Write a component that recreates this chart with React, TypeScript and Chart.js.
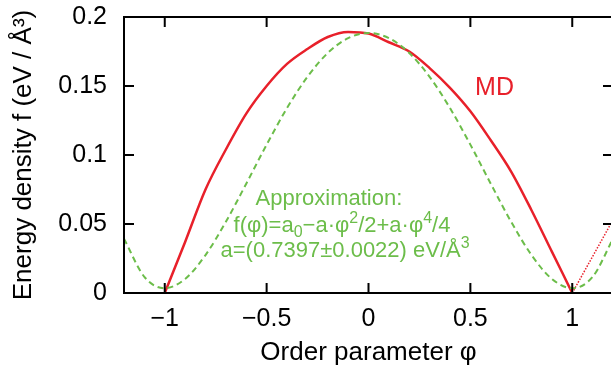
import React, { useEffect, useRef } from 'react';
import { Chart, registerables } from 'chart.js';

Chart.register(...registerables);

// ---- data ----
const approxPhi = [-1.2, -1.1, -1.0, -0.9, -0.8, -0.7, -0.6, -0.5, -0.4, -0.3, -0.2, -0.1, 0, 0.1, 0.2, 0.3, 0.4, 0.5, 0.6, 0.7, 0.8, 0.9, 1.0, 1.1, 1.2];
const approxValues = [0.0393, 0.0117, 0.0035, 0.0102, 0.0275, 0.0516, 0.0792, 0.1075, 0.134, 0.1566, 0.1739, 0.1847, 0.1884, 0.1847, 0.1739, 0.1566, 0.134, 0.1075, 0.0792, 0.0516, 0.0275, 0.0102, 0.0035, 0.0117, 0.0393];

const mdPhi = [-1.0, -0.9, -0.8, -0.7, -0.6, -0.5, -0.4, -0.3, -0.2, -0.1, 0, 0.1, 0.2, 0.3, 0.4, 0.5, 0.6, 0.7, 0.8, 0.9, 1.0];
const mdValues = [0, 0.037, 0.075, 0.104, 0.130, 0.150, 0.166, 0.1768, 0.1855, 0.1892, 0.188, 0.1817, 0.175, 0.163, 0.1487, 0.1317, 0.1107, 0.088, 0.060, 0.030, 0];

const mdTailPhi = [1.0, 1.2];
const mdTailValues = [0, 0.053];

const xTicks = [-1, -0.5, 0, 0.5, 1];
const xTickLabels = ['\u22121', '\u22120.5', '0', '0.5', '1'];
const yTicks = [0, 0.05, 0.1, 0.15, 0.2];
const yTickLabels = ['0', '0.05', '0.1', '0.15', '0.2'];

const xTitle = 'Order parameter \u03C6';
const yTitle = 'Energy density f (eV / \u00C5\u00B3)';

const mdLabel = { text: 'MD', phi: 0.523, f: 0.1435 };
// each line: segments [text, kind] with kind 0 normal, -1 subscript, 1 superscript
const approxLines = [
  { phi: -0.194, f: 0.0638, segs: [['Approximation:', 0]] },
  { phi: -0.13, f: 0.0444, segs: [['f(\u03C6)=a', 0], ['0', -1], ['\u2212a\u00B7\u03C6', 0], ['2', 1], ['/2+a\u00B7\u03C6', 0], ['4', 1], ['/4', 0]] },
  { phi: -0.115, f: 0.0261, segs: [['a=(0.7397\u00B10.0022) eV/\u00C5', 0], ['3', 1]] },
];

const RED = '#e8202a';
const GREEN = '#6cbd4a';
const FONT = "'Liberation Sans', Arial, Helvetica, sans-serif";
const TICK = 10;

const framePlugin = {
  id: 'framePlugin',
  afterDatasetsDraw(chart: any) {
    const { ctx, chartArea: a, scales } = chart;
    const xs = scales.x;
    const ys = scales.y;
    ctx.save();
    ctx.strokeStyle = '#000';
    ctx.lineWidth = 2;
    ctx.beginPath();
    ctx.rect(a.left, a.top, a.right - a.left, a.bottom - a.top);
    xTicks.forEach((v) => {
      const p = xs.getPixelForValue(v);
      ctx.moveTo(p, a.bottom);
      ctx.lineTo(p, a.bottom - TICK);
      ctx.moveTo(p, a.top);
      ctx.lineTo(p, a.top + TICK);
    });
    yTicks.forEach((v) => {
      const p = ys.getPixelForValue(v);
      ctx.moveTo(a.left, p);
      ctx.lineTo(a.left + TICK, p);
      ctx.moveTo(a.right, p);
      ctx.lineTo(a.right - TICK, p);
    });
    ctx.stroke();

    // MD label
    ctx.fillStyle = RED;
    ctx.font = `25px ${FONT}`;
    ctx.textAlign = 'left';
    ctx.textBaseline = 'alphabetic';
    ctx.fillText(mdLabel.text, xs.getPixelForValue(mdLabel.phi), ys.getPixelForValue(mdLabel.f));

    // Approximation text
    ctx.fillStyle = GREEN;
    const big = `22px ${FONT}`;
    const small = `16px ${FONT}`;
    approxLines.forEach((line) => {
      let total = 0;
      line.segs.forEach(([t, k]) => {
        ctx.font = k === 0 ? big : small;
        total += ctx.measureText(t as string).width;
      });
      let x = xs.getPixelForValue(line.phi) - total / 2;
      const y = ys.getPixelForValue(line.f);
      line.segs.forEach(([t, k]) => {
        ctx.font = k === 0 ? big : small;
        const dy = k === 1 ? -9 : k === -1 ? 5 : 0;
        ctx.fillText(t as string, x, y + dy);
        x += ctx.measureText(t as string).width;
      });
    });
    ctx.restore();
  },
};

export default function App() {
  const ref = useRef<HTMLCanvasElement | null>(null);

  useEffect(() => {
    if (!ref.current) return;
    const chart = new Chart(ref.current, {
      type: 'line',
      data: {
        datasets: [
          {
            label: 'Approximation',
            data: approxPhi.map((x, i) => ({ x, y: approxValues[i] })),
            borderColor: GREEN,
            borderWidth: 2,
            borderDash: [6, 4],
            pointRadius: 0,
            cubicInterpolationMode: 'monotone',
            fill: false,
          },
          {
            label: 'MD',
            data: mdPhi.map((x, i) => ({ x, y: mdValues[i] })),
            borderColor: RED,
            borderWidth: 2.5,
            pointRadius: 0,
            cubicInterpolationMode: 'monotone',
            fill: false,
          },
          {
            label: 'MD tail',
            data: mdTailPhi.map((x, i) => ({ x, y: mdTailValues[i] })),
            borderColor: RED,
            borderWidth: 1.5,
            borderDash: [1.5, 1.5],
            pointRadius: 0,
            fill: false,
          },
        ],
      },
      options: {
        animation: false,
        responsive: false,
        devicePixelRatio: 1,
        layout: { padding: { top: 17, left: 0, right: 0, bottom: 0 } },
        plugins: { legend: { display: false }, tooltip: { enabled: false } },
        scales: {
          x: {
            type: 'linear',
            min: -1.2,
            max: 1.2,
            afterBuildTicks: (s: any) => {
              s.ticks = xTicks.map((v) => ({ value: v }));
            },
            afterFit: (s: any) => {
              s.height = 78;
              s.paddingLeft = 0;
              s.paddingRight = 0;
            },
            grid: { display: false, drawTicks: false },
            border: { display: false },
            ticks: {
              autoSkip: false,
              maxRotation: 0,
              padding: 11,
              color: '#000',
              font: { family: FONT, size: 25 },
              callback: (v: any) => xTickLabels[xTicks.indexOf(Number(v))] ?? '',
            },
            title: {
              display: true,
              text: xTitle,
              color: '#000',
              font: { family: FONT, size: 26 },
              padding: { top: 0, bottom: 3 },
            },
          },
          y: {
            type: 'linear',
            min: 0,
            max: 0.2,
            afterBuildTicks: (s: any) => {
              s.ticks = yTicks.map((v) => ({ value: v }));
            },
            afterFit: (s: any) => {
              s.width = 124;
              s.paddingTop = 0;
              s.paddingBottom = 0;
            },
            grid: { display: false, drawTicks: false },
            border: { display: false },
            ticks: {
              autoSkip: false,
              padding: 17,
              color: '#000',
              font: { family: FONT, size: 25 },
              callback: (v: any) => {
                const i = yTicks.findIndex((t) => Math.abs(t - Number(v)) < 1e-9);
                return i >= 0 ? yTickLabels[i] : '';
              },
            },
            title: {
              display: true,
              text: yTitle,
              color: '#000',
              font: { family: FONT, size: 26 },
              padding: { top: 8, bottom: 0 },
            },
          },
        },
      },
      plugins: [framePlugin],
    } as any);
    return () => chart.destroy();
  }, []);

  return (
    <div
      style={{
        position: 'fixed',
        left: 0,
        top: 0,
        width: 611,
        height: 371,
        overflow: 'hidden',
        background: '#fff',
      }}
    >
      <canvas ref={ref} width={613} height={371} style={{ display: 'block', width: 613, height: 371 }} />
    </div>
  );
}
